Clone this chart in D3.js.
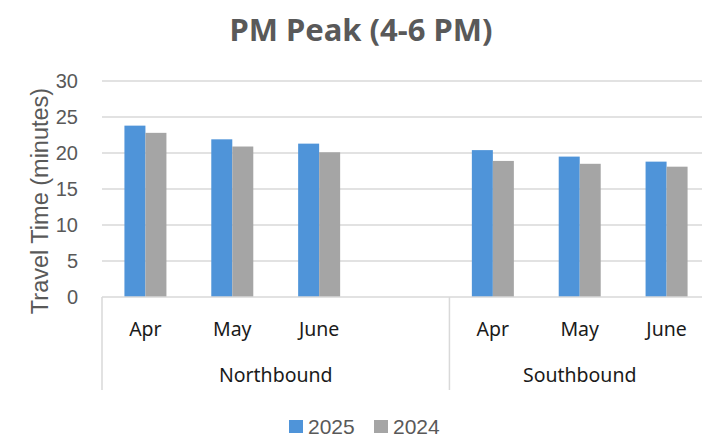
<!DOCTYPE html>
<html>
<head>
<meta charset="utf-8">
<script src="https://cdn.jsdelivr.net/npm/d3@7.9.0/dist/d3.min.js"></script>
<style>
  body { margin: 0; background: #fff; }
  svg { display: block; }
</style>
</head>
<body>
<div id="chart"></div>
<script>
const groups = ['Northbound', 'Southbound'];
// Northbound has an empty 4th slot in the original chart
const slots = [
  { group: 'Northbound', month: 'Apr' },
  { group: 'Northbound', month: 'May' },
  { group: 'Northbound', month: 'June' },
  { group: 'Northbound', month: '' },
  { group: 'Southbound', month: 'Apr' },
  { group: 'Southbound', month: 'May' },
  { group: 'Southbound', month: 'June' }
];
const series = ['2025', '2024'];
const values2025 = [23.8, 21.9, 21.3, null, 20.4, 19.5, 18.8];
const values2024 = [22.8, 20.9, 20.1, null, 18.9, 18.5, 18.1];
const yTicks = [0, 5, 10, 15, 20, 25, 30];

const width = 702, height = 446;
const margin = { top: 81, left: 102, bottom: 149 };
const plotRight = 710;
const colors = { '2025': '#4F94D9', '2024': '#A5A5A5' };
const barW = 21;

const svg = d3.select('#chart').append('svg')
  .attr('width', width)
  .attr('height', height);

const x = d3.scaleBand()
  .domain(d3.range(slots.length))
  .range([margin.left, plotRight])
  .paddingInner(0).paddingOuter(0);

const xInner = d3.scaleBand()
  .domain(series)
  .range([x.bandwidth() / 2 - barW, x.bandwidth() / 2 + barW]);

const y = d3.scaleLinear()
  .domain([0, 30])
  .range([height - margin.bottom, margin.top]);

// title
svg.append('text')
  .attr('x', 361).attr('y', 41)
  .attr('text-anchor', 'middle')
  .attr('fill', '#595959')
  .style('font-family', '"Noto Sans", "Open Sans", sans-serif')
  .style('font-size', '31px').style('font-weight', 'bold')
  .text('PM Peak (4-6 PM)');

// gridlines
svg.append('g')
  .selectAll('line')
  .data(yTicks.filter(d => d > 0))
  .enter().append('line')
  .attr('x1', margin.left).attr('x2', plotRight)
  .attr('y1', d => y(d)).attr('y2', d => y(d))
  .attr('stroke', '#D9D9D9').attr('stroke-width', 1.5);

// y axis labels
const yAxis = svg.append('g')
  .attr('transform', `translate(${margin.left},0)`)
  .call(d3.axisLeft(y).tickValues(yTicks).tickSize(0).tickPadding(24));
yAxis.select('.domain').remove();
yAxis.selectAll('text')
  .attr('fill', '#595959')
  .style('font-family', '"Liberation Sans", Arial, sans-serif')
  .style('font-size', '20px');

svg.append('text')
  .attr('transform', `translate(48,${(y(0) + y(30)) / 2 + 12}) rotate(-90)`)
  .attr('text-anchor', 'middle')
  .attr('fill', '#595959')
  .style('font-family', '"Liberation Sans", Arial, sans-serif')
  .style('font-size', '23.5px')
  .text('Travel Time (minutes)');

// bars
const barData = [];
slots.forEach((s, i) => {
  if (values2025[i] != null) barData.push({ i, key: '2025', v: values2025[i] });
  if (values2024[i] != null) barData.push({ i, key: '2024', v: values2024[i] });
});

svg.append('g')
  .selectAll('rect')
  .data(barData)
  .enter().append('rect')
  .attr('x', d => x(d.i) + xInner(d.key))
  .attr('width', xInner.bandwidth())
  .attr('y', d => y(d.v))
  .attr('height', d => y(0) - y(d.v))
  .attr('fill', d => colors[d.key]);

// category axis
const axisY = y(0);
const catBottom = 390;
svg.append('line')
  .attr('x1', margin.left).attr('x2', plotRight)
  .attr('y1', axisY).attr('y2', axisY)
  .attr('stroke', '#D9D9D9').attr('stroke-width', 1.5);

const groupBounds = groups.map(g => {
  const idx = slots.map((s, i) => s.group === g ? i : -1).filter(i => i >= 0);
  return { g, x0: x(idx[0]), x1: x(idx[idx.length - 1]) + x.bandwidth() };
});

svg.append('g')
  .selectAll('line')
  .data(groupBounds)
  .enter().append('line')
  .attr('x1', d => d.x0).attr('x2', d => d.x0)
  .attr('y1', axisY).attr('y2', catBottom)
  .attr('stroke', '#D9D9D9').attr('stroke-width', 1.5);

svg.append('g')
  .selectAll('text')
  .data(slots.map((s, i) => ({ ...s, i })).filter(s => s.month))
  .enter().append('text')
  .attr('x', d => x(d.i) + x.bandwidth() / 2)
  .attr('y', 336)
  .attr('text-anchor', 'middle')
  .attr('fill', '#1a1a1a')
  .style('font-family', '"Noto Sans", "Open Sans", sans-serif')
  .style('font-size', '19.5px')
  .text(d => d.month);

svg.append('g')
  .selectAll('text')
  .data(groupBounds)
  .enter().append('text')
  .attr('x', d => d.g === 'Northbound' ? (d.x0 + d.x1) / 2 : (d.x0 + d.x1) / 2)
  .attr('y', 382)
  .attr('text-anchor', 'middle')
  .attr('fill', '#1a1a1a')
  .style('font-family', '"Noto Sans", "Open Sans", sans-serif')
  .style('font-size', '19.5px')
  .text(d => d.g);

// legend
const legend = svg.append('g');
const legendX = [289, 374];
series.forEach((s, i) => {
  legend.append('rect')
    .attr('x', legendX[i]).attr('y', 420)
    .attr('width', 14).attr('height', 13)
    .attr('fill', colors[s]);
  legend.append('text')
    .attr('x', legendX[i] + 19).attr('y', 434)
    .attr('fill', '#595959')
    .style('font-family', '"Liberation Sans", Arial, sans-serif')
    .style('font-size', '21px')
    .text(s);
});
</script>
</body>
</html>
